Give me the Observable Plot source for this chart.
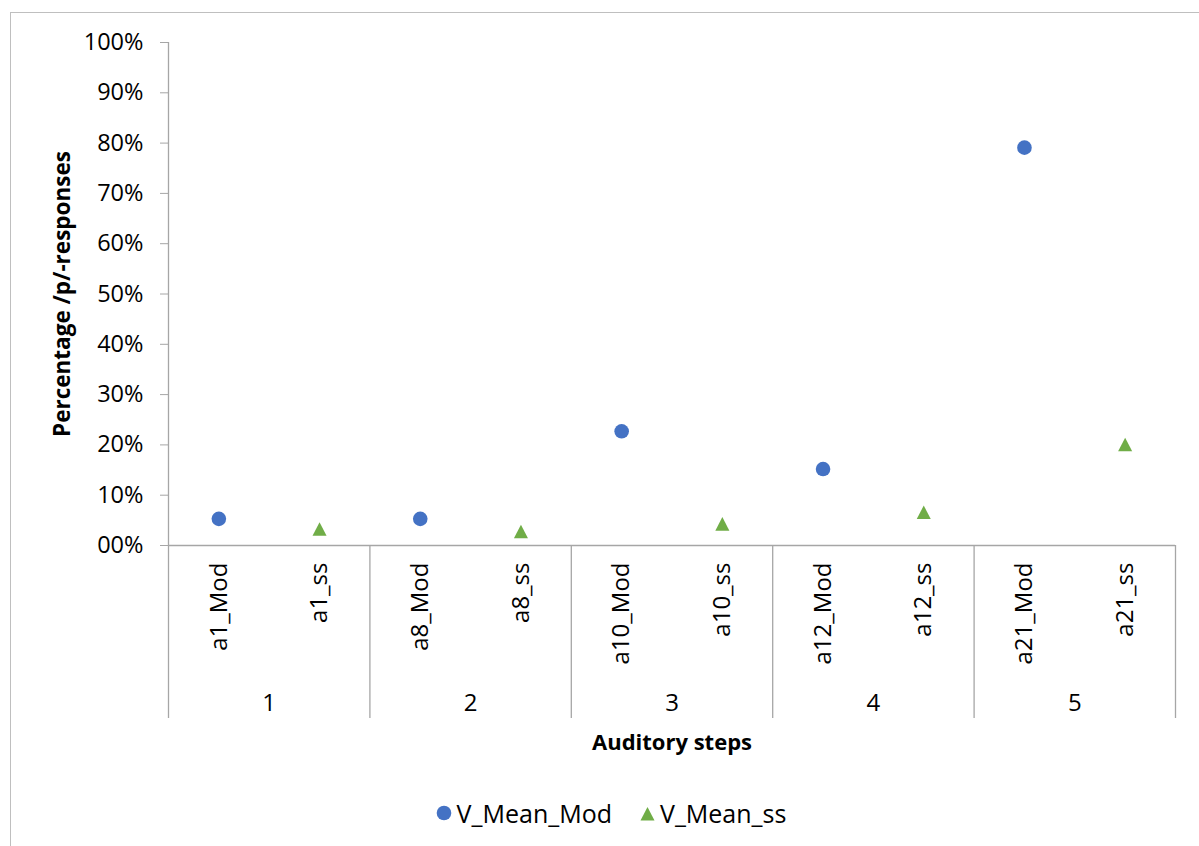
<!DOCTYPE html>
<html><head><meta charset="utf-8">
<script src="https://cdn.jsdelivr.net/npm/d3@7"></script>
<script src="https://cdn.jsdelivr.net/npm/@observablehq/plot@0.6"></script>
<style>
html,body{margin:0;padding:0;background:#fff;}
body{width:1199px;height:846px;position:relative;overflow:hidden;font-family:"Open Sans",sans-serif;}
#border{position:absolute;left:10px;top:12px;width:1300px;height:900px;border:1.5px solid #bfbfbf;box-sizing:border-box;}
#chart{position:absolute;left:0;top:0;}
#legend{position:absolute;left:0;top:790px;width:1222px;height:46px;display:flex;justify-content:center;align-items:center;font-size:25px;color:#000;}
.item{display:flex;align-items:center;}
.item svg{margin-right:5px;}
.item + .item{margin-left:28px;}
</style></head>
<body>
<div id="border"></div>
<div id="chart"></div>
<div id="legend"></div>
<script>
const categories = ["a1_Mod","a1_ss","a8_Mod","a8_ss","a10_Mod","a10_ss","a12_Mod","a12_ss","a21_Mod","a21_ss"];
const groups = ["1","2","3","4","5"];
const seriesNames = ["V_Mean_Mod","V_Mean_ss"];
const modCategories = ["a1_Mod","a8_Mod","a10_Mod","a12_Mod","a21_Mod"];
const modValues = [0.053,0.053,0.227,0.152,0.791];
const ssCategories = ["a1_ss","a8_ss","a10_ss","a12_ss","a21_ss"];
const ssValues = [0.033,0.028,0.043,0.066,0.201];
const yTicks = [0,0.1,0.2,0.3,0.4,0.5,0.6,0.7,0.8,0.9,1];
const xTitle = "Auditory steps";
const yTitle = "Percentage /p/-responses";

const blue = "#4472C4", green = "#70AD47", axisGray = "#a6a6a6";
const groupBounds = groups.map((g,i)=> i*2).concat([categories.length]);
const fmt = d => String(Math.round(d*100)).padStart(2,"0") + "%";
const tri = {draw(ctx, size){ const r = Math.sqrt(size/Math.PI); const w = 1.35*r, h = 1.3*r;
  ctx.moveTo(0,-h); ctx.lineTo(w,h); ctx.lineTo(-w,h); ctx.closePath(); }};

const chart = Plot.plot({
  width: 1199, height: 790,
  marginLeft: 168, marginRight: 24, marginTop: 42, marginBottom: 245,
  x: {type: "linear", domain: [0, categories.length], axis: null},
  y: {domain: [0, 1], axis: null},
  style: {fontFamily: "'Open Sans', sans-serif", fontSize: "24px", background: "transparent", overflow: "visible", color: "#000"},
  marks: [
    Plot.axisY({ticks: yTicks, tickFormat: fmt, tickSize: 8, tickPadding: 17, stroke: axisGray, fill: "#000", fontSize: 23.5, label: null}),
    Plot.ruleX([0], {stroke: axisGray, strokeWidth: 1.3}),
    Plot.ruleY([0], {stroke: axisGray, strokeWidth: 1.3}),
    Plot.ruleX(groupBounds, {x: d => d, y1: 0, y2: 0, insetBottom: -173, stroke: axisGray, strokeWidth: 1.3}),
    Plot.text(categories, {x: (d,i) => i + 0.5, y: 0, text: d => d, rotate: -90, textAnchor: "end", dy: 17, fontSize: 24, fill: "#000"}),
    Plot.text(groups, {x: (d,i) => 2*i + 1, y: 0, text: d => d, dy: 158, fontSize: 24, fill: "#000"}),
    Plot.text([xTitle], {frameAnchor: "bottom", text: d => d, lineAnchor: "middle", textAnchor: "middle", dy: 197, fontSize: 22, fontWeight: "bold", fill: "#000"}),
    Plot.text([yTitle], {frameAnchor: "left", text: d => d, rotate: -90, textAnchor: "middle", lineAnchor: "middle", dx: -106, fontSize: 22.5, fontWeight: "bold", fill: "#000"}),
    Plot.dot(modValues, {x: (d,i) => categories.indexOf(modCategories[i]) + 0.5, y: d => d, r: 7.3, fill: blue, stroke: null, symbol: "circle"}),
    Plot.dot(ssValues, {x: (d,i) => categories.indexOf(ssCategories[i]) + 0.5, y: d => d, r: 5.2, fill: green, stroke: null, symbol: tri})
  ]
});
document.getElementById("chart").appendChild(chart);

const legend = d3.select("#legend");
const it1 = legend.append("div").attr("class","item");
it1.append("svg").attr("width",16).attr("height",16).append("circle").attr("cx",8).attr("cy",8).attr("r",7.3).attr("fill",blue);
it1.append("span").text(seriesNames[0]);
const it2 = legend.append("div").attr("class","item");
it2.append("svg").attr("width",15).attr("height",15).append("path").attr("d","M7.5,1 L14.5,14.5 L0.5,14.5 Z").attr("fill",green);
it2.append("span").text(seriesNames[1]);
</script>
</body></html>
